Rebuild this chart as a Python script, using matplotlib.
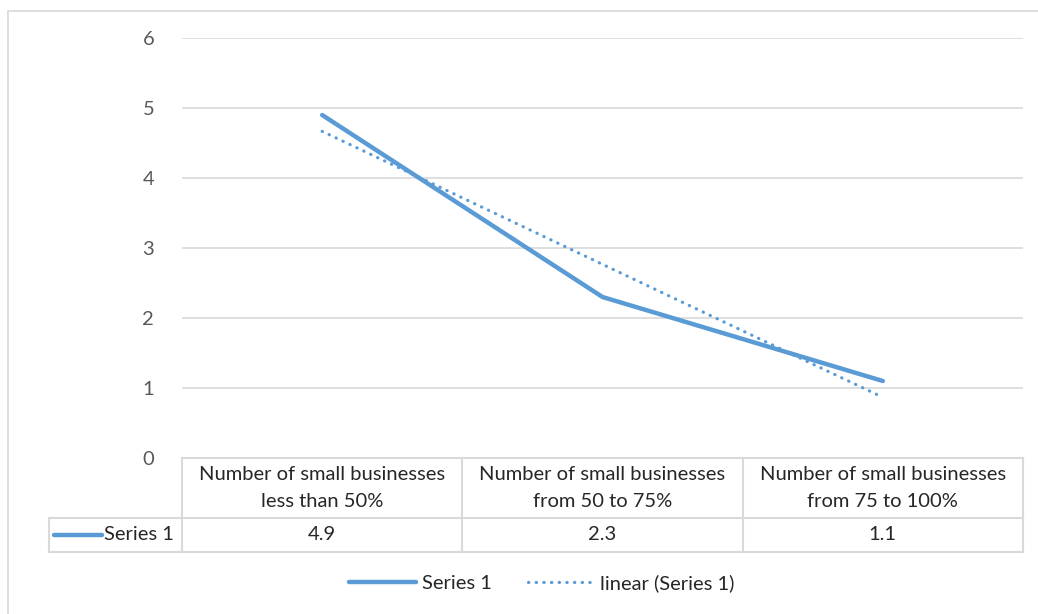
import matplotlib
matplotlib.use("Agg")
import matplotlib.pyplot as plt
from matplotlib.lines import Line2D
from matplotlib.patches import Rectangle
import numpy as np

categories = [
    "Number of small businesses\nless than 50%",
    "Number of small businesses\nfrom 50 to 75%",
    "Number of small businesses\nfrom 75 to 100%",
]
series_name = "Series 1"
values = [4.9, 2.3, 1.1]
yticks = [0, 1, 2, 3, 4, 5, 6]

BLUE = "#5B9BD5"
GRID = "#D9D9D9"
TICK = "#595959"
TEXT = "#262626"
FS = 14.5

plt.rcParams["font.family"] = ["Lato", "DejaVu Sans"]

W, H = 1038, 614
fig = plt.figure(figsize=(W / 100, H / 100), dpi=100)

# chart border
fig.patches.append(Rectangle((8 / W, -0.1), 1.2, 1 - 11 / H + 0.1,
                             transform=fig.transFigure, fill=False,
                             edgecolor=GRID, linewidth=1.2))

ax_left, ax_right, ax_top, ax_bottom = 182, 1023, 38, 458
ax = fig.add_axes([ax_left / W, 1 - ax_bottom / H,
                   (ax_right - ax_left) / W, (ax_bottom - ax_top) / H])

x = np.arange(1, len(values) + 1)
ax.plot(x, values, color=BLUE, linewidth=3.2, solid_capstyle="round", zorder=3)

# linear trend line
slope, intercept = np.polyfit(x, values, 1)
trend = slope * x + intercept
TREND_STYLE = dict(color=BLUE, linewidth=2.3, linestyle=(0, (0.1, 2.3)),
                   dash_capstyle="round")
ax.plot(x, trend, zorder=4, **TREND_STYLE)

ax.set_xlim(0.5, len(values) + 0.5)
ax.set_ylim(0, 6)
ax.set_yticks(yticks)
ax.set_xticks([])
ax.grid(axis="y", color=GRID, linewidth=1.2)
ax.set_axisbelow(True)
for s in ax.spines.values():
    s.set_visible(False)
ax.tick_params(axis="y", length=0, pad=20, labelsize=FS, labelcolor=TICK)

# data table below the plot
ax_h = ax_bottom - ax_top
ax_w = ax_right - ax_left
row1 = -(518 - ax_bottom) / ax_h
row2 = -(552 - ax_bottom) / ax_h
left_col = -(ax_left - 49) / ax_w
tr = ax.get_xaxis_transform()
kw = dict(color=GRID, linewidth=1.5, transform=tr, clip_on=False, zorder=1)
akw = dict(color=GRID, linewidth=1.5, transform=ax.transAxes, clip_on=False)

edges = np.arange(0.5, len(values) + 1.0, 1.0)
for e in edges:
    ax.add_line(Line2D([e, e], [0, row2], **kw))
ax.add_line(Line2D([edges[0], edges[-1]], [0, 0], **kw))
ax.add_line(Line2D([left_col, 1], [row1, row1], **akw))
ax.add_line(Line2D([left_col, 1], [row2, row2], **akw))
ax.add_line(Line2D([left_col, left_col], [row1, row2], **akw))

for xi, cat, v in zip(x, categories, values):
    ax.text(xi, row1 / 2, cat, transform=tr, ha="center", va="center",
            fontsize=FS, color=TEXT, linespacing=1.65)
    ax.text(xi, (row1 + row2) / 2, f"{v:g}", transform=tr, ha="center",
            va="center", fontsize=FS, color=TEXT)

# row header with legend key
key_x0 = -(ax_left - 54) / ax_w
key_x1 = -(ax_left - 102) / ax_w
ymid = (row1 + row2) / 2
ax.add_line(Line2D([key_x0, key_x1], [ymid, ymid], color=BLUE, linewidth=3.2,
                   solid_capstyle="round", transform=ax.transAxes, clip_on=False))
ax.text(-(ax_left - 104) / ax_w, ymid, series_name, transform=ax.transAxes,
        ha="left", va="center", fontsize=FS, color=TEXT)

# legend
handles = [
    Line2D([], [], color=BLUE, linewidth=3.2, solid_capstyle="round"),
    Line2D([], [], **TREND_STYLE),
]
labels = [series_name, f"linear ({series_name})"]
fig.legend(handles, labels, loc="center", bbox_to_anchor=(542 / W, 1 - 583 / H),
           ncol=2, frameon=False, fontsize=FS, handlelength=3.3,
           handletextpad=0.3, columnspacing=1.8, labelcolor=TEXT)

fig.savefig("out.png", dpi=100, facecolor="white")
